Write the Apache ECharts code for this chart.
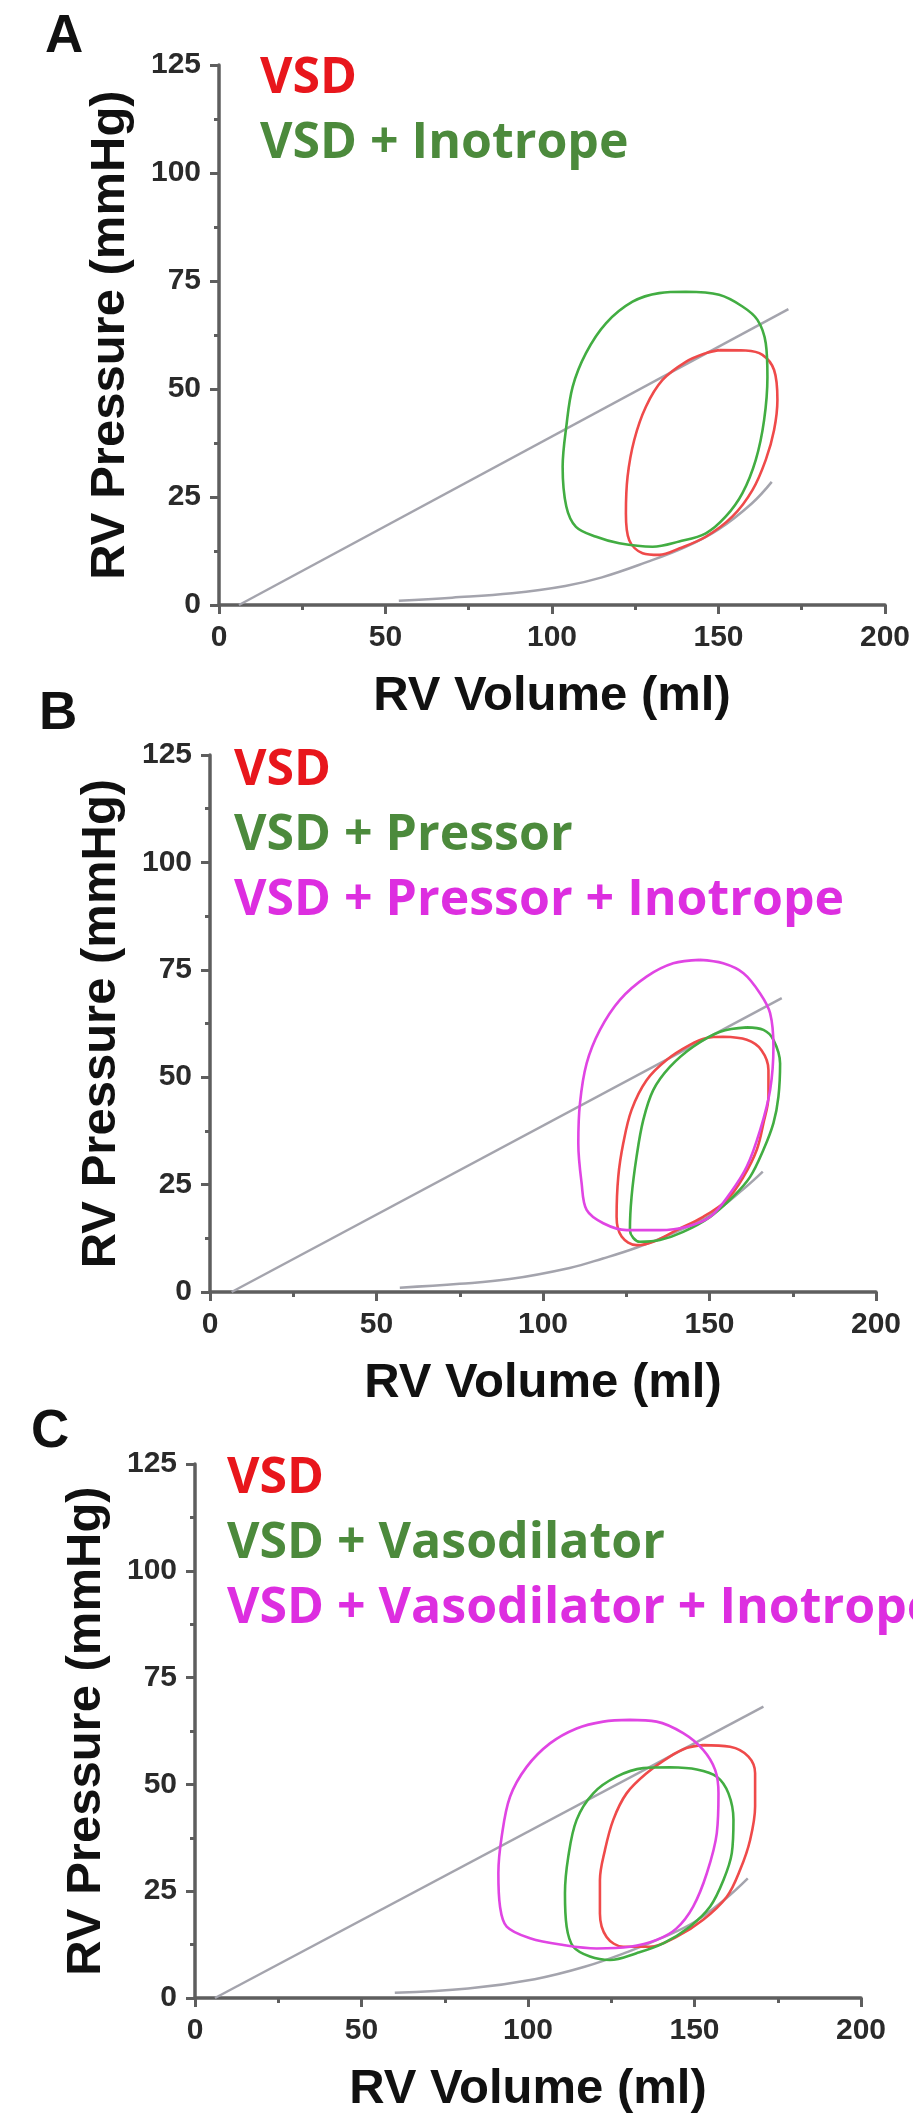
<!DOCTYPE html>
<html>
<head>
<meta charset="utf-8">
<title>RV pressure-volume loops</title>
<script src="https://cdn.jsdelivr.net/npm/echarts@6/dist/echarts.min.js"></script>
<style>
  html, body { margin: 0; padding: 0; background: #ffffff; }
  #chart { width: 913px; height: 2127px; }
</style>
</head>
<body>
<div id="chart"></div>
<script>
// Axis ticks (ml on x, mmHg on y)
const volumeTicks = [0, 50, 100, 150, 200];
const pressureTicks = [0, 25, 50, 75, 100, 125];
const panelLetters = ['A', 'B', 'C'];

// Panel A: end-systolic (ESPVR) and end-diastolic (EDPVR) relations, [volume, pressure]
const espvrA = [[6, 0], [171, 68.5]];
const edpvrA = [[54, 1], [70, 1.7], [88, 2.7], [104, 4.4], [115, 6.4], [128, 9.8], [140, 13.4], [150, 17.5], [160, 23.5], [166, 28.5]];
// Panel A loops
const loopA_vsd = [
  [150.2, 59], [158.2, 58.9], [163.2, 57.9], [166.7, 54.4], [167.7, 47.5], [166.7, 40.5],
  [164.2, 33.6], [160.2, 26.6], [154.2, 20.5], [146.2, 15.8], [138.2, 13.1], [132.2, 11.6],
  [127.2, 12], [123.2, 15], [122.2, 21.2], [122.7, 29.7], [124.7, 38.2], [128.2, 45.9],
  [133.2, 52.1], [140.2, 56.3], [146.2, 58.3], [150.2, 59]
];
const loopA_inotrope = [
  [140.2, 72.5], [132.2, 72.2], [124.2, 70.2], [116.2, 65.2], [110.2, 58.3], [106.2, 50.5],
  [104.3, 41.3], [103.2, 32], [104.3, 22.8], [107.2, 18.1], [113.3, 15.8], [120.2, 14.3],
  [130.2, 13.5], [138.2, 14.7], [146.2, 16.6], [152.2, 20.5], [157.2, 25.9], [161.2, 33.6],
  [163.7, 42.8], [164.7, 52.8], [164.2, 60.6], [161.7, 66], [157.2, 69.1], [150.2, 71.8],
  [140.2, 72.5]
];

// Panel B
const espvrB = [[6.5, 0], [171.7, 68.4]];
const edpvrB = [[57, 1], [75, 1.9], [90, 3], [108, 5.6], [118, 7.8], [128, 10.3], [140, 14], [150, 17.8], [161, 24.5], [166, 28]];
const loopB_vsd = [
  [154.1, 59.4], [161.2, 58.7], [165.6, 56.3], [167.7, 51.7], [167.7, 45.5], [166.2, 39.3],
  [164.2, 33.1], [160.2, 26.8], [155.2, 21.4], [148.1, 17.5], [140.1, 14.4], [133.1, 11.7],
  [128.1, 10.9], [123.6, 12.9], [122.1, 17.5], [122.6, 26.8], [124.1, 34.6], [126.6, 42.4],
  [131.1, 49.3], [137.1, 54], [144.1, 57.5], [149.1, 59.1], [154.1, 59.4]
];
const loopB_pressor = [
  [161.2, 61.6], [166.2, 61], [169.2, 58.7], [171.2, 53.2], [170.7, 45.5], [169.2, 39.3],
  [166.2, 33.1], [162.2, 26.8], [157.1, 22.2], [150.2, 17.5], [142.1, 14], [135.1, 12.1],
  [129.1, 11.7], [126.1, 14.4], [126.6, 22.2], [128.1, 31.5], [130.1, 40], [133.1, 47],
  [138.1, 52.4], [145.1, 57.1], [153.2, 60.6], [161.2, 61.6]
];
const loopB_pressorInotrope = [
  [147.1, 77.3], [139.1, 76.5], [131.1, 73.4], [123.1, 68], [117.1, 61], [113.1, 53.2],
  [111.1, 43.9], [110.6, 34.6], [111.6, 25.3], [113.1, 19.1], [118.1, 16], [125.1, 14.4],
  [135.1, 14.4], [143.2, 15.2], [150.2, 17.5], [156.2, 23], [161.2, 29.2], [165.2, 37.7],
  [168.2, 47], [169.2, 57.1], [168.2, 64.9], [165.2, 69.5], [160.2, 74.2], [154.1, 76.5],
  [147.1, 77.3]
];

// Panel C
const espvrC = [[6, 0], [170.7, 68.2]];
const edpvrC = [[60, 1.2], [82, 2.2], [102, 4.4], [117, 7.3], [130, 10.8], [140, 14], [150, 17.8], [159, 23], [166, 28]];
const loopC_vsd = [
  [152.6, 59.2], [160.7, 58.8], [166.2, 56.5], [168.2, 52.6], [168.2, 44.8], [166.7, 37],
  [163.7, 30], [159.7, 23.7], [152.6, 18.3], [144.6, 14.3], [136.6, 12], [128.6, 12],
  [123.6, 14.3], [121.6, 19.8], [121.6, 27.6], [123.1, 34.6], [125.6, 41.7], [129.6, 47.9],
  [135.6, 52.6], [142.6, 56.5], [147.6, 58.5], [152.6, 59.2]
];
const loopC_vasodilator = [
  [142.6, 54], [150.7, 53.5], [156.7, 51.8], [160.2, 47.9], [161.7, 41.7], [161.2, 33.9],
  [158.7, 27.6], [154.7, 21.4], [148.6, 16.7], [140.6, 12.8], [132.6, 10.5], [124.6, 8.9],
  [118.6, 9.7], [113.6, 12], [111.6, 16.7], [111.1, 24.5], [112.1, 33.1], [114.6, 41.7],
  [119.6, 47.9], [126.6, 51.8], [134.6, 53.8], [142.6, 54]
];
const loopC_vasodilatorInotrope = [
  [130.6, 65.1], [122.6, 64.7], [114.6, 63.1], [106.6, 59.6], [99.6, 54.1], [94.6, 47.1],
  [92.1, 37.8], [91.1, 29.2], [91.6, 21.4], [93.6, 16.7], [100.6, 14], [110.6, 12.4],
  [120.6, 11.6], [130.6, 12], [138.6, 13.6], [144.6, 16.3], [149.6, 21.4], [153.7, 29.2],
  [156.7, 38.6], [157.2, 47.9], [156.2, 53.4], [152.6, 58.1], [146.6, 62], [138.6, 64.7],
  [130.6, 65.1]
];

const LINE_RED = '#ef4a4a';
const LINE_GREEN = '#42ad42';
const LINE_MAGENTA = '#e045e3';
const TEXT_RED = '#e8161c';
const TEXT_GREEN = '#4c8a3c';
const TEXT_MAGENTA = '#dd2ee0';
const RELATION_GRAY = '#a4a4ad';
const AXIS_GRAY = '#5e5e5e';

const panels = [
  {
    grid: { left: 219, top: 65, width: 667, height: 540 },
    legend: { left: 250, top: 49 },
    letter: { left: 40, top: 6 },
    espvr: espvrA, edpvr: edpvrA,
    loops: [
      { name: 'VSD', data: loopA_vsd, line: LINE_RED, text: TEXT_RED },
      { name: 'VSD + Inotrope', data: loopA_inotrope, line: LINE_GREEN, text: TEXT_GREEN }
    ]
  },
  {
    grid: { left: 210, top: 755, width: 666, height: 537 },
    legend: { left: 224, top: 741 },
    letter: { left: 34, top: 683 },
    espvr: espvrB, edpvr: edpvrB,
    loops: [
      { name: 'VSD', data: loopB_vsd, line: LINE_RED, text: TEXT_RED },
      { name: 'VSD + Pressor', data: loopB_pressor, line: LINE_GREEN, text: TEXT_GREEN },
      { name: 'VSD + Pressor + Inotrope', data: loopB_pressorInotrope, line: LINE_MAGENTA, text: TEXT_MAGENTA }
    ]
  },
  {
    grid: { left: 195, top: 1464, width: 666, height: 534 },
    legend: { left: 217, top: 1449 },
    letter: { left: 26, top: 1401 },
    espvr: espvrC, edpvr: edpvrC,
    loops: [
      { name: 'VSD', data: loopC_vsd, line: LINE_RED, text: TEXT_RED },
      { name: 'VSD + Vasodilator', data: loopC_vasodilator, line: LINE_GREEN, text: TEXT_GREEN },
      { name: 'VSD + Vasodilator + Inotrope', data: loopC_vasodilatorInotrope, line: LINE_MAGENTA, text: TEXT_MAGENTA }
    ]
  }
];

const axisFont = 'Liberation Sans, Arial, sans-serif';

function axisCommon(ticks, name, nameGap, nameSize) {
  return {
    type: 'value',
    min: ticks[0],
    max: ticks[ticks.length - 1],
    interval: ticks[1] - ticks[0],
    name: name,
    nameLocation: 'middle',
    nameGap: nameGap,
    nameTextStyle: { fontFamily: axisFont, fontSize: nameSize, fontWeight: 'bold', color: '#111111' },
    axisLine: { show: true, onZero: false, lineStyle: { color: AXIS_GRAY, width: 3.5 } },
    axisTick: { show: true, length: 9, lineStyle: { color: AXIS_GRAY, width: 3 } },
    minorTick: { show: true, splitNumber: 2, length: 5, lineStyle: { color: AXIS_GRAY, width: 3 } },
    splitLine: { show: false },
    axisLabel: { fontFamily: axisFont, fontSize: 30, fontWeight: 'bold', color: '#2a2a2a', margin: 18 }
  };
}

const grid = [], xAxis = [], yAxis = [], series = [], legend = [], title = [];

panels.forEach((p, i) => {
  grid.push(Object.assign({ containLabel: false }, p.grid));
  xAxis.push(Object.assign(axisCommon(volumeTicks, 'RV Volume (ml)', 67, 49), { gridIndex: i }));
  yAxis.push(Object.assign(axisCommon(pressureTicks, 'RV Pressure (mmHg)', 84, 49), { gridIndex: i }));

  title.push({
    text: panelLetters[i],
    left: p.letter.left,
    top: p.letter.top,
    textStyle: { fontFamily: axisFont, fontSize: 53, fontWeight: 'bold', color: '#111111' }
  });

  ['ESPVR', 'EDPVR'].forEach((rel) => {
    series.push({
      name: rel,
      type: 'line',
      xAxisIndex: i,
      yAxisIndex: i,
      data: rel === 'ESPVR' ? p.espvr : p.edpvr,
      smooth: rel === 'EDPVR' ? 0.4 : false,
      showSymbol: false,
      silent: true,
      lineStyle: { color: RELATION_GRAY, width: 2.5 },
      z: 1
    });
  });

  p.loops.forEach((loop) => {
    series.push({
      name: loop.name,
      type: 'line',
      xAxisIndex: i,
      yAxisIndex: i,
      data: loop.data,
      smooth: 0.35,
      showSymbol: false,
      color: loop.line,
      lineStyle: { color: loop.line, width: 2.6 },
      z: 3
    });
  });

  legend.push({
    left: p.legend.left,
    top: p.legend.top,
    orient: 'vertical',
    icon: 'none',
    itemWidth: 0,
    itemHeight: 50,
    itemGap: 15,
    selectedMode: false,
    textStyle: { fontFamily: 'Open Sans, Noto Sans, sans-serif', fontSize: 50, fontWeight: 'bold' },
    data: p.loops.map((loop) => ({ name: loop.name, textStyle: { color: loop.text } }))
  });
});

const chart = echarts.init(document.getElementById('chart'), null, { renderer: 'canvas' });
chart.setOption({
  backgroundColor: '#ffffff',
  animation: false,
  title: title,
  legend: legend,
  grid: grid,
  xAxis: xAxis,
  yAxis: yAxis,
  series: series
});
</script>
</body>
</html>
